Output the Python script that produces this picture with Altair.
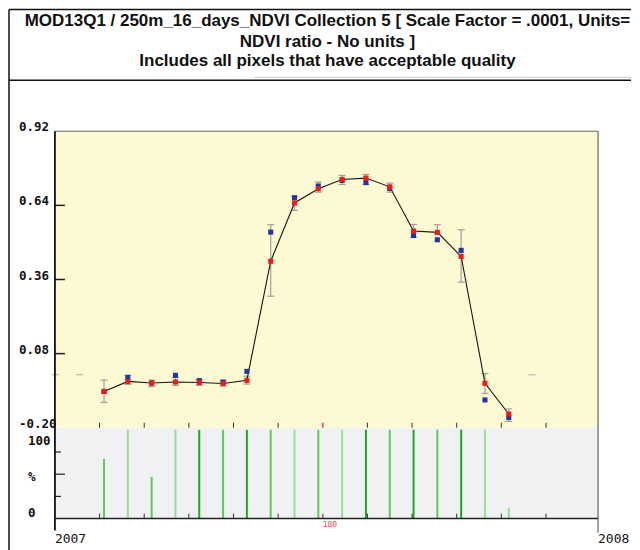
import altair as alt
import pandas as pd

# ---------------- data ----------------
doy = [33, 49, 65, 81, 97, 113, 129, 145, 161, 177, 193, 209, 225, 241, 257, 273, 289, 305]
mean_ndvi = [-0.063, -0.025, -0.031, -0.027, -0.029, -0.033, -0.021, 0.429, 0.649, 0.703,
             0.738, 0.743, 0.710, 0.543, 0.538, 0.447, -0.032, -0.148]
median_ndvi = [-0.063, -0.010, -0.031, -0.002, -0.022, -0.027, 0.013, 0.539, 0.669, 0.713,
               0.734, 0.726, 0.704, 0.526, 0.510, 0.470, -0.095, -0.161]
err_low = [-0.104, -0.036, -0.045, -0.040, -0.040, -0.042, -0.035, 0.297, 0.621, 0.690,
           0.719, 0.719, 0.690, 0.520, 0.530, 0.350, -0.070, -0.176]
err_high = [-0.020, -0.002, -0.020, -0.010, -0.018, -0.022, -0.005, 0.567, 0.674, 0.728,
            0.753, 0.757, 0.724, 0.568, 0.567, 0.548, 0.005, -0.129]
pct_good = [67, 100, 47, 100, 100, 100, 100, 100, 100, 100, 100, 100, 100, 100, 100, 100, 100, 12]
quality = ["mid", "light", "mid", "light", "dark", "mid", "dark", "mid", "light", "mid",
           "light", "dark", "mid", "dark", "mid", "dark", "light", "light"]

ndvi_ticks = [0.92, 0.64, 0.36, 0.08, -0.20]
ndvi_tick_labels = ["0.92", "0.64", "0.36", "0.08", "-0.20"]
ndvi_inner_ticks = [0.64, 0.36, 0.08]
month_ticks = [30, 60, 90, 120, 150, 210, 240, 270, 300, 330]
mid_year_tick = [180]
ref_dashes_start = [-2, 14, 318]
ref_dashes_end = [3, 19, 323]
ref_level = 0.0
year_doy = [0, 365]
year_labels = ["2007", "2008"]
title_lines = [
    "MOD13Q1 / 250m_16_days_NDVI Collection 5 [ Scale Factor = .0001, Units=",
    "NDVI ratio - No units ]",
    "Includes all pixels that have acceptable quality",
]

df = pd.DataFrame({"doy": doy, "mean": mean_ndvi, "median": median_ndvi,
                   "lo": err_low, "hi": err_high, "pct": pct_good, "quality": quality})
ticks_df = pd.DataFrame({"v": ndvi_ticks, "label": ndvi_tick_labels})
inner_df = pd.DataFrame({"v": ndvi_inner_ticks})
month_df = pd.DataFrame({"doy": month_ticks})
mid_df = pd.DataFrame({"doy": mid_year_tick, "label": [str(d) for d in mid_year_tick]})
dash_df = pd.DataFrame({"a": ref_dashes_start, "b": ref_dashes_end, "v": [ref_level] * 3})
year_df = pd.DataFrame({"doy": year_doy, "label": year_labels})
one = alt.Data(values=[{"k": 1}])

# ---------------- geometry ----------------
W, H = 544, 388
YH = 297
x_scale = alt.Scale(domain=[0, 365], nice=False, zero=False)
ndvi_scale = alt.Scale(domain=[-0.20, 0.92], range=[YH, 0], nice=False, zero=False)
pct_scale = alt.Scale(domain=[0, 100], range=[H, 299], nice=False, zero=False)

X = alt.X("doy:Q", scale=x_scale, axis=None)
MONO = "DejaVu Sans Mono"


def hrule(x1, x2, y, color, w=1.0):
    return alt.Chart(one).mark_rule(color=color, strokeWidth=w).encode(
        x=alt.value(x1), x2=alt.value(x2), y=alt.value(y))


def vrule(x, y1, y2, color, w=1.0):
    return alt.Chart(one).mark_rule(color=color, strokeWidth=w).encode(
        x=alt.value(x), y=alt.value(y1), y2=alt.value(y2))


layers = []
# panel backgrounds
layers.append(alt.Chart(one).mark_rect(color="#FCF9D3").encode(
    x=alt.value(0), x2=alt.value(W), y=alt.value(0), y2=alt.value(YH)))
layers.append(alt.Chart(one).mark_rect(color="#EFF1F3").encode(
    x=alt.value(0), x2=alt.value(W), y=alt.value(YH), y2=alt.value(H)))

# quality bars
layers.append(alt.Chart(df).mark_rule(strokeWidth=2).encode(
    x=X,
    y=alt.Y("pct:Q", scale=pct_scale, axis=None),
    y2=alt.datum(0),
    color=alt.Color("quality:N", legend=None,
                    scale=alt.Scale(domain=["dark", "mid", "light"],
                                    range=["#1CAA1C", "#5CC95C", "#98DE98"]))))

# x ticks (top of lower panel and bottom)
for y1, y2 in [(YH - 5, YH), (H - 5, H)]:
    layers.append(alt.Chart(month_df).mark_rule(color="#333", strokeWidth=1).encode(
        x=X, y=alt.value(y1), y2=alt.value(y2)))
    layers.append(alt.Chart(mid_df).mark_rule(color="#F04040", strokeWidth=1.5).encode(
        x=X, y=alt.value(y1), y2=alt.value(y2)))

# reference dashes
layers.append(alt.Chart(dash_df).mark_rule(color="#B0B0A8", strokeWidth=1).encode(
    x=alt.X("a:Q", scale=x_scale, axis=None), x2="b:Q",
    y=alt.Y("v:Q", scale=ndvi_scale, axis=None)))

# error bars
layers.append(alt.Chart(df).mark_rule(color="#A0A09A", strokeWidth=1.2).encode(
    x=X, y=alt.Y("lo:Q", scale=ndvi_scale, axis=None), y2="hi:Q"))
for f in ["lo", "hi"]:
    layers.append(alt.Chart(df).mark_tick(orient="horizontal", size=7, thickness=1.2,
                                          color="#A0A09A", opacity=1).encode(
        x=X, y=alt.Y(f + ":Q", scale=ndvi_scale, axis=None)))

# line through means
layers.append(alt.Chart(df).mark_line(color="#151515", strokeWidth=1.1).encode(
    x=X, y=alt.Y("mean:Q", scale=ndvi_scale, axis=None)))
# median (blue) then mean (red)
layers.append(alt.Chart(df).mark_square(size=26, color="#2236A8", opacity=1).encode(
    x=X, y=alt.Y("median:Q", scale=ndvi_scale, axis=None)))
layers.append(alt.Chart(df).mark_square(size=26, color="#F01A1A", opacity=1).encode(
    x=X, y=alt.Y("mean:Q", scale=ndvi_scale, axis=None)))

# y ticks inside
layers.append(alt.Chart(inner_df).mark_rule(color="#222", strokeWidth=1.5).encode(
    x=alt.value(0), x2=alt.value(10), y=alt.Y("v:Q", scale=ndvi_scale, axis=None)))
layers.append(alt.Chart(pd.DataFrame({"p": [50]})).mark_rule(color="#222", strokeWidth=1.2).encode(
    x=alt.value(0), x2=alt.value(10), y=alt.Y("p:Q", scale=pct_scale, axis=None)))
layers.append(alt.Chart(pd.DataFrame({"p": [25, 75]})).mark_rule(color="#222", strokeWidth=1.2).encode(
    x=alt.value(0), x2=alt.value(6), y=alt.Y("p:Q", scale=pct_scale, axis=None)))

# y labels
layers.append(alt.Chart(ticks_df).mark_text(font=MONO, fontSize=12.5, fontWeight="bold",
                                            align="left", baseline="alphabetic",
                                            color="#111").encode(
    x=alt.value(-36), y=alt.Y("v:Q", scale=ndvi_scale, axis=None), text="label:N"))
for p, lab, dy in [(100, "100", 11), (50, "%", 3), (0, "0", -6)]:
    layers.append(alt.Chart(pd.DataFrame({"p": [p], "t": [lab]})).mark_text(
        font=MONO, fontSize=12.5, fontWeight="bold", align="left", baseline="middle",
        dy=dy, color="#111").encode(
        x=alt.value(-27), y=alt.Y("p:Q", scale=pct_scale, axis=None), text="t:N"))

# panel frame lines
layers.append(hrule(0, W, 0, "#666", 1))
layers.append(vrule(0, 0, H + 12, "#111", 1.8))
layers.append(vrule(W, 0, H + 14, "#444", 1))
layers.append(hrule(0, W, H, "#222", 1.5))

# year and mid-year labels
layers.append(alt.Chart(year_df).mark_text(font=MONO, fontSize=13, align="left",
                                           baseline="middle", color="#111").encode(
    x=X, y=alt.value(H + 20), text="label:N"))
layers.append(alt.Chart(mid_df).mark_text(font=MONO, fontSize=8, align="left",
                                          baseline="middle", color="#F04040").encode(
    x=X, y=alt.value(H + 6), text="label:N"))

# outer frame and title box
layers.append(vrule(-46, -122, 420, "#111", 1.5))
layers.append(hrule(-46, 577, -122, "#111", 1.5))
layers.append(hrule(-46, 577, -51, "#111", 1.5))
layers.append(hrule(200, 577, -54, "#C8C8C8", 1))

for i, (line, yy) in enumerate(zip(title_lines, [-110, -89, -70])):
    layers.append(alt.Chart(one).mark_text(font="Liberation Sans", fontWeight="bold",
                                           fontSize=17, align="center", baseline="middle",
                                           color="#111").encode(
        x=alt.value(273), y=alt.value(yy), text=alt.value(line)))

chart = alt.layer(*layers).resolve_scale(y="independent").properties(
    width=W, height=H, padding=0
).configure_view(stroke=None)

chart.save("out.html", embed_options={"renderer": "svg", "actions": False})
